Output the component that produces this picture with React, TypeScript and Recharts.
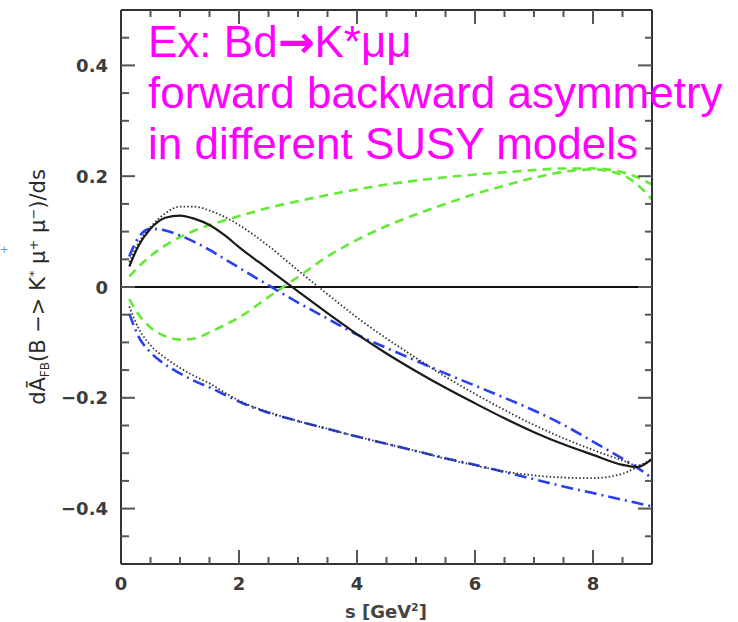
import { LineChart, Line, XAxis, YAxis, ReferenceLine } from "recharts"

// s values [GeV^2] shared by every curve
const sValues = [0.14, 0.3, 0.5, 0.75, 1, 1.25, 1.5, 1.75, 2, 2.5, 3, 3.5, 4, 4.5, 5, 5.5, 6, 6.5, 7, 7.5, 8, 8.5, 8.75, 9]

// upper branch curves
const blackSolid = [0.037, 0.075, 0.105, 0.125, 0.129, 0.123, 0.112, 0.094, 0.072, 0.032, -0.008, -0.047, -0.085, -0.12, -0.152, -0.182, -0.21, -0.237, -0.262, -0.284, -0.303, -0.321, -0.325, -0.31]
const blackDottedUp = [0.045, 0.08, 0.108, 0.133, 0.145, 0.145, 0.138, 0.127, 0.112, 0.074, 0.03, -0.013, -0.055, -0.093, -0.128, -0.162, -0.193, -0.222, -0.249, -0.273, -0.294, -0.313, -0.322, -0.31]
const blueUp = [0.055, 0.09, 0.105, 0.102, 0.093, 0.081, 0.067, 0.051, 0.035, 0.003, -0.028, -0.057, -0.086, -0.11, -0.133, -0.156, -0.178, -0.2, -0.223, -0.249, -0.279, -0.31, -0.326, -0.345]
const greenUp = [0.019, 0.037, 0.056, 0.075, 0.09, 0.102, 0.112, 0.12, 0.128, 0.143, 0.155, 0.166, 0.176, 0.185, 0.192, 0.198, 0.203, 0.207, 0.211, 0.214, 0.214, 0.207, 0.198, 0.185]

// lower branch curves
const greenLow = [-0.022, -0.05, -0.073, -0.089, -0.095, -0.093, -0.082, -0.069, -0.055, -0.018, 0.018, 0.055, 0.085, 0.11, 0.131, 0.15, 0.168, 0.183, 0.197, 0.208, 0.212, 0.202, 0.185, 0.158]
const blackDottedLow = [-0.035, -0.075, -0.105, -0.128, -0.146, -0.161, -0.174, -0.19, -0.205, -0.226, -0.242, -0.256, -0.27, -0.283, -0.296, -0.31, -0.322, -0.333, -0.34, -0.344, -0.345, -0.337, -0.325, -0.312]
const blueLow = [-0.048, -0.09, -0.118, -0.14, -0.156, -0.17, -0.181, -0.194, -0.207, -0.227, -0.242, -0.256, -0.27, -0.283, -0.296, -0.309, -0.321, -0.334, -0.347, -0.36, -0.372, -0.384, -0.39, -0.396]

// axis ticks
const xTicks = [0.5, 1, 1.5, 2, 2.5, 3, 3.5, 4, 4.5, 5, 5.5, 6, 6.5, 7, 7.5, 8, 8.5]
const xLabelTicks = [0, 2, 4, 6, 8]
const yTicks = [-0.45, -0.4, -0.35, -0.3, -0.25, -0.2, -0.15, -0.1, -0.05, 0, 0.05, 0.1, 0.15, 0.2, 0.25, 0.3, 0.35, 0.4, 0.45]
const yLabelTicks = [-0.4, -0.2, 0, 0.2, 0.4]

const titleLines = ["forward backward asymmetry", "in different SUSY models"]

const rows = sValues.map((s, i) => ({
  s,
  blackSolid: blackSolid[i],
  blackDottedUp: blackDottedUp[i],
  blueUp: blueUp[i],
  greenUp: greenUp[i],
  greenLow: greenLow[i],
  blackDottedLow: blackDottedLow[i],
  blueLow: blueLow[i],
}))

const xDom: [number, number] = [0, 9]
const yDom: [number, number] = [-0.5, 0.5]

// plot box (set by the axis widths/heights below)
const W = 738
const H = 622
const LEFT = 121
const RIGHT = 86
const TOP = 10
const BOTTOM = 58
const plotW = W - LEFT - RIGHT
const plotH = H - TOP - BOTTOM
const px = (s: number) => LEFT + ((s - xDom[0]) / (xDom[1] - xDom[0])) * plotW
const py = (v: number) => TOP + ((yDom[1] - v) / (yDom[1] - yDom[0])) * plotH

const FRAME = "#333"
const TICK = "#555"
const frameLine = { stroke: FRAME, strokeWidth: 2 }
const labelFont = { fontFamily: "DejaVu Sans", fontWeight: 700, fontSize: 18, fill: "#3c3c3c" }

const fmt = (v: number) => (v < 0 ? "\u2212" + Math.abs(v) : String(v))
const isIn = (arr: number[], v: number) => arr.some((t) => Math.abs(t - v) < 1e-6)

function LeftLabel({ x, y, payload }: any) {
  return (
    <text x={x - 13} y={y + 6.5} textAnchor="end" {...labelFont}>
      {fmt(payload.value)}
    </text>
  )
}

function BottomLabel({ x, y, payload }: any) {
  return (
    <text x={x} y={y + 26} textAnchor="middle" {...labelFont}>
      {payload.value}
    </text>
  )
}

// inward tick marks on all four sides of the frame
function TickMarks() {
  const lines: any[] = []
  xTicks.forEach((v) => {
    const len = isIn(xLabelTicks, v) ? 14 : 7
    const x = px(v)
    lines.push(<line key={`b${v}`} x1={x} x2={x} y1={TOP + plotH} y2={TOP + plotH - len} />)
    lines.push(<line key={`t${v}`} x1={x} x2={x} y1={TOP} y2={TOP + len} />)
  })
  yTicks.forEach((v) => {
    const major = isIn(yLabelTicks, v)
    const y = py(v)
    lines.push(<line key={`l${v}`} x1={LEFT} x2={LEFT + (major ? 14 : 8)} y1={y} y2={y} />)
    lines.push(<line key={`r${v}`} x1={LEFT + plotW} x2={LEFT + plotW - (major ? 14 : 7)} y1={y} y2={y} />)
  })
  return (
    <g stroke={TICK} strokeWidth={2}>
      {lines}
    </g>
  )
}

export default function App() {
  return (
    <div style={{ position: "absolute", left: 0, top: 0, width: W, height: H, background: "#fff" }}>
      <LineChart width={W} height={H} data={rows} margin={{ top: 0, right: 0, bottom: 0, left: 0 }}>
        <XAxis xAxisId="bottom" dataKey="s" type="number" domain={xDom} ticks={xLabelTicks} interval={0} height={BOTTOM}
          allowDataOverflow tickSize={0} tickMargin={0} tickLine={false} axisLine={frameLine} tick={BottomLabel} />
        <XAxis xAxisId="top" orientation="top" type="number" domain={xDom} ticks={xLabelTicks} height={TOP}
          allowDataOverflow tickLine={false} tick={false} axisLine={frameLine} />
        <YAxis yAxisId="left" type="number" domain={yDom} ticks={yLabelTicks} interval={0} width={LEFT}
          allowDataOverflow tickSize={0} tickMargin={0} tickLine={false} axisLine={frameLine} tick={LeftLabel} />
        <YAxis yAxisId="right" orientation="right" type="number" domain={yDom} ticks={yLabelTicks} width={RIGHT}
          allowDataOverflow tickLine={false} tick={false} axisLine={frameLine} />

        <ReferenceLine xAxisId="bottom" yAxisId="left" y={0} stroke="#111" strokeWidth={1.8} />

        <Line xAxisId="bottom" yAxisId="left" dataKey="greenUp" type="monotone" stroke="#62ea34" strokeWidth={2.6} strokeDasharray="9 6" dot={false} isAnimationActive={false} />
        <Line xAxisId="bottom" yAxisId="left" dataKey="greenLow" type="monotone" stroke="#62ea34" strokeWidth={2.6} strokeDasharray="9 6" dot={false} isAnimationActive={false} />
        <Line xAxisId="bottom" yAxisId="left" dataKey="blueUp" type="monotone" stroke="#2840ee" strokeWidth={2.6} strokeDasharray="12 5 2 5" dot={false} isAnimationActive={false} />
        <Line xAxisId="bottom" yAxisId="left" dataKey="blueLow" type="monotone" stroke="#2840ee" strokeWidth={2.6} strokeDasharray="12 5 2 5" dot={false} isAnimationActive={false} />
        <Line xAxisId="bottom" yAxisId="left" dataKey="blackDottedUp" type="monotone" stroke="#333" strokeWidth={1.8} strokeDasharray="1.5 2.2" dot={false} isAnimationActive={false} />
        <Line xAxisId="bottom" yAxisId="left" dataKey="blackDottedLow" type="monotone" stroke="#333" strokeWidth={1.8} strokeDasharray="1.5 2.2" dot={false} isAnimationActive={false} />
        <Line xAxisId="bottom" yAxisId="left" dataKey="blackSolid" type="monotone" stroke="#1a1a1a" strokeWidth={2.2} dot={false} isAnimationActive={false} />
      </LineChart>

      <svg width={W} height={H} style={{ position: "absolute", left: 0, top: 0, pointerEvents: "none" }}>
        <TickMarks />
        <text x={0} y={253} fontSize={10} fill="#5b8fd8" fontFamily="DejaVu Sans">+</text>
        <text transform="translate(45,287) rotate(-90)" textAnchor="middle" fontFamily="DejaVu Sans" fontSize={21} fill="#2a2a2a">
          {"d\u0100"}
          <tspan fontSize={12} dy={4}>FB</tspan>
          <tspan dy={-4}>{"(B \u2212> K"}</tspan>
          <tspan fontSize={13} dy={-7}>*</tspan>
          <tspan dy={7}>{" \u03bc"}</tspan>
          <tspan fontSize={13} dy={-7}>+</tspan>
          <tspan dy={7}>{" \u03bc"}</tspan>
          <tspan fontSize={13} dy={-7}>{"\u2212"}</tspan>
          <tspan dy={7}>{")/ds"}</tspan>
        </text>
        <text x={386} y={618} textAnchor="middle" fontFamily="DejaVu Sans" fontWeight={700} fontSize={18} fill="#444">
          {"s  [GeV"}
          <tspan fontSize={11} dy={-7}>2</tspan>
          <tspan dy={7}>]</tspan>
        </text>
        <text x={148} y={57} fontFamily="Liberation Sans, Arial, sans-serif" fontSize={44} fill="#ff00ff">
          {"Ex: Bd"}
          <tspan fontFamily="DejaVu Sans" fontWeight={700} fontSize={44}>{"\u2192"}</tspan>
          {"K*\u03bc\u03bc"}
        </text>
        {titleLines.map((line, i) => (
          <text key={i} x={148} y={108 + i * 51} fontFamily="Liberation Sans, Arial, sans-serif" fontSize={44} fill="#ff00ff">
            {line}
          </text>
        ))}
      </svg>
    </div>
  )
}
